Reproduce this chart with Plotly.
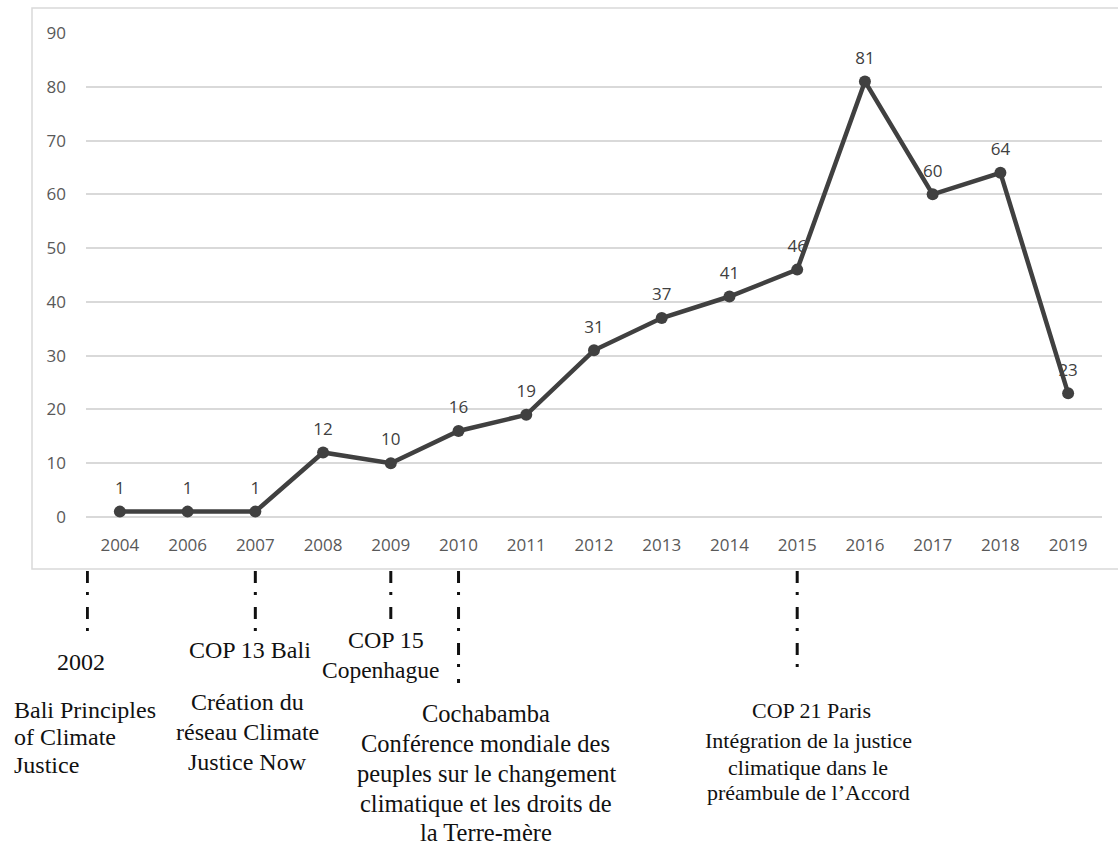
import plotly.graph_objects as go

# ---- data ----
years = ["2004", "2006", "2007", "2008", "2009", "2010", "2011", "2012",
         "2013", "2014", "2015", "2016", "2017", "2018", "2019"]
counts = [1, 1, 1, 12, 10, 16, 19, 31, 37, 41, 46, 81, 60, 64, 23]

event_years = ["2002", "2007", "2009", "2010", "2015"]
event_line_bottom_px = [633, 633, 620, 683, 672]

# event text lines: (text, x_px, y_px, anchor, size)
event_texts = [
    ("2002", 81, 662, "center", 24),
    ("Bali Principles", 12, 710, "left", 24),
    ("of Climate", 12, 737, "left", 24),
    ("Justice", 12, 765, "left", 24),
    ("COP 13 Bali", 250, 650, "center", 24),
    ("Création du", 247, 702, "center", 24),
    ("réseau Climate", 247, 732, "center", 24),
    ("Justice Now", 247, 762, "center", 24),
    ("COP 15", 386, 640, "center", 24),
    ("Copenhague", 380, 670, "center", 23.5),
    ("Cochabamba", 486, 713, "center", 24.5),
    ("Conférence mondiale des", 485, 743, "center", 24.5),
    ("peuples sur le changement", 486, 773, "center", 24.5),
    ("climatique et les droits de", 486, 804, "center", 24.5),
    ("la Terre-mère", 486, 832, "center", 24.5),
    ("COP 21 Paris", 811, 710, "center", 22),
    ("Intégration de la justice", 808, 740, "center", 22),
    ("climatique dans le", 808, 767, "center", 22),
    ("préambule de l\u2019Accord", 808, 792, "center", 22),
]

# ---- layout geometry ----
W, H = 1118, 845
L, R, T, B = 86, 16, 33, 328
PW = W - L - R
PH = H - T - B


def px_x(x):
    return (x - L) / PW


def px_y(y):
    return (H - B - y) / PH


LINE_COL = "#404040"
GRID_COL = "#d9d9d9"
NUM_FONT = "Open Sans, Lato, sans-serif"
SERIF = "Liberation Serif, Times New Roman, serif"

fig = go.Figure()
fig.add_trace(go.Scatter(
    x=years, y=counts, mode="lines+markers",
    line=dict(color=LINE_COL, width=4.5),
    marker=dict(color=LINE_COL, size=12),
    cliponaxis=False, hoverinfo="skip", showlegend=False,
))
# data labels (transparent spacer markers push the text above the points)
fig.add_trace(go.Scatter(
    x=years, y=counts, mode="markers+text",
    text=[str(v) for v in counts], textposition="top center",
    textfont=dict(family=NUM_FONT, size=17, color=LINE_COL),
    marker=dict(color="rgba(0,0,0,0)", size=20),
    cliponaxis=False, hoverinfo="skip", showlegend=False,
))

annotations = []
for txt, xp, yp, anc, sz in event_texts:
    annotations.append(dict(
        x=px_x(xp), y=px_y(yp), xref="paper", yref="paper", text=txt,
        showarrow=False, xanchor=anc, yanchor="middle", align=anc,
        font=dict(family=SERIF, size=sz, color="#111111"),
    ))

shapes = []
# chart frame
shapes.append(dict(type="rect", xref="paper", yref="paper",
                   x0=px_x(32), x1=px_x(1125), y0=px_y(569), y1=px_y(8),
                   line=dict(color=GRID_COL, width=1.5), layer="below"))
# event dash-dot lines
for ey, yb in zip(event_years, event_line_bottom_px):
    xi = years.index(ey) if ey in years else -0.48
    shapes.append(dict(type="line", xref="x", yref="paper",
                       x0=xi, x1=xi, y0=px_y(571), y1=px_y(yb),
                       line=dict(color="#111111", width=3,
                                 dash="12px,9px,3px,12px")))

fig.update_layout(
    width=W, height=H,
    margin=dict(l=L, r=R, t=T, b=B, pad=0),
    paper_bgcolor="white", plot_bgcolor="white",
    xaxis=dict(type="category", categoryorder="array", categoryarray=years,
               range=[-0.5, len(years) - 0.5], showgrid=False, showline=False,
               zeroline=False, ticks="", ticklabelstandoff=16,
               tickfont=dict(family=NUM_FONT, size=17, color="#595959")),
    yaxis=dict(range=[0, 90], dtick=10, tick0=0, showgrid=True,
               gridcolor=GRID_COL, gridwidth=1.5, zeroline=True,
               zerolinecolor=GRID_COL, zerolinewidth=1.5, showline=False,
               ticks="", ticklabelstandoff=19,
               tickfont=dict(family=NUM_FONT, size=17, color="#595959")),
    annotations=annotations, shapes=shapes,
)

fig.write_html(
    "out.html",
    config={"displayModeBar": False},
    post_script="document.body.style.margin='0px';"
                "document.body.style.overflow='hidden';",
)
